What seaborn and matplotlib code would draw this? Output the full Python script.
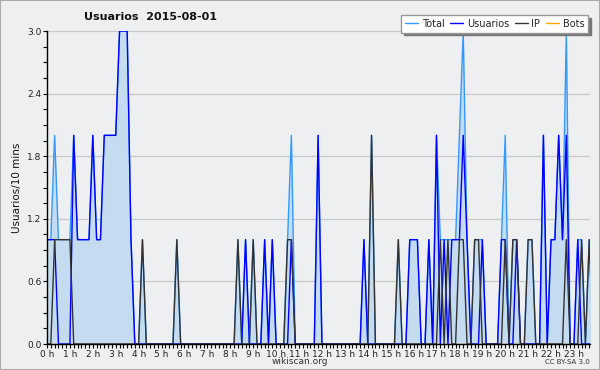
import numpy as np
import pandas as pd
import matplotlib
matplotlib.use("Agg")
import matplotlib.pyplot as plt
import seaborn as sns
from matplotlib.lines import Line2D
from matplotlib.patches import Rectangle
from matplotlib.ticker import FixedLocator, MultipleLocator, FormatStrFormatter

# ---- data: one value per 10-minute slot (144 slots) ----
hour_labels = [f"{h} h" for h in range(24)]

total = [
    1, 1, 2, 1, 1, 1, 1, 2, 1, 1, 1, 1, 2, 1, 1, 2, 2, 2, 2, 3, 3, 3, 1, 0,
    0, 1, 0, 0, 0, 0, 0, 0, 0, 0, 1, 0, 0, 0, 0, 0, 0, 0, 0, 0, 0, 0, 0, 0,
    0, 0, 1, 0, 1, 0, 1, 0, 0, 1, 0, 1, 0, 0, 0, 1, 2, 0, 0, 0, 0, 0, 0, 2,
    0, 0, 0, 0, 0, 0, 0, 0, 0, 0, 0, 1, 0, 2, 0, 0, 0, 0, 0, 0, 1, 0, 0, 1,
    1, 1, 0, 0, 1, 0, 2, 1, 1, 1, 1, 1, 2, 3, 1, 0, 1, 1, 1, 0, 0, 0, 0, 1,
    2, 0, 1, 1, 0, 0, 1, 1, 0, 0, 2, 0, 1, 1, 2, 1, 3, 0, 0, 1, 1, 0, 1, 0,
]
usuarios = [
    1, 1, 1, 0, 0, 0, 0, 2, 1, 1, 1, 1, 2, 1, 1, 2, 2, 2, 2, 3, 3, 3, 1, 0,
    0, 0, 0, 0, 0, 0, 0, 0, 0, 0, 0, 0, 0, 0, 0, 0, 0, 0, 0, 0, 0, 0, 0, 0,
    0, 0, 0, 0, 1, 0, 0, 0, 0, 1, 0, 1, 0, 0, 0, 0, 1, 0, 0, 0, 0, 0, 0, 2,
    0, 0, 0, 0, 0, 0, 0, 0, 0, 0, 0, 1, 0, 0, 0, 0, 0, 0, 0, 0, 0, 0, 0, 1,
    1, 1, 0, 0, 1, 0, 2, 0, 1, 0, 1, 1, 1, 2, 1, 0, 0, 0, 1, 0, 0, 0, 0, 1,
    1, 0, 0, 1, 0, 0, 0, 0, 0, 0, 2, 0, 1, 1, 2, 1, 2, 0, 0, 1, 0, 0, 0, 0,
]
ip = [
    0, 0, 1, 1, 1, 1, 1, 0, 0, 0, 0, 0, 0, 0, 0, 0, 0, 0, 0, 0, 0, 0, 0, 0,
    0, 1, 0, 0, 0, 0, 0, 0, 0, 0, 1, 0, 0, 0, 0, 0, 0, 0, 0, 0, 0, 0, 0, 0,
    0, 0, 1, 0, 0, 0, 1, 0, 0, 0, 0, 0, 0, 0, 0, 1, 1, 0, 0, 0, 0, 0, 0, 0,
    0, 0, 0, 0, 0, 0, 0, 0, 0, 0, 0, 0, 0, 2, 0, 0, 0, 0, 0, 0, 1, 0, 0, 0,
    0, 0, 0, 0, 0, 0, 0, 1, 0, 1, 0, 0, 1, 1, 0, 0, 1, 1, 0, 0, 0, 0, 0, 0,
    1, 0, 1, 1, 0, 0, 1, 1, 0, 0, 0, 0, 0, 0, 0, 0, 1, 0, 0, 0, 1, 0, 1, 0,
]
bots = [
    0, 0, 0, 0, 0, 0, 0, 0, 0, 0, 0, 0, 0, 0, 0, 0, 0, 0, 0, 0, 0, 0, 0, 0,
    0, 0, 0, 0, 0, 0, 0, 0, 0, 0, 0, 0, 0, 0, 0, 0, 0, 0, 0, 0, 0, 0, 0, 0,
    0, 0, 0, 0, 0, 0, 0, 0, 0, 0, 0, 0, 0, 0, 0, 0, 0, 0, 0, 0, 0, 0, 0, 0,
    0, 0, 0, 0, 0, 0, 0, 0, 0, 0, 0, 0, 0, 0, 0, 0, 0, 0, 0, 0, 0, 0, 0, 0,
    0, 0, 0, 0, 0, 0, 0, 0, 0, 0, 0, 0, 0, 0, 0, 0, 0, 0, 0, 0, 0, 0, 0, 0,
    0, 0, 0, 0, 0, 0, 0, 0, 0, 0, 0, 0, 0, 0, 0, 0, 0, 0, 0, 0, 0, 0, 0, 0,
]

# ---- styling ----
BG = "#eeeff0"
FILL = "#c5dcf0"
COLORS = {"Total": "#3399ff", "Usuarios": "#0000ff", "IP": "#333333", "Bots": "#ffa500"}

sns.set_theme(style="white")
plt.rcParams["font.family"] = ["DejaVu Sans"]

fig = plt.figure(figsize=(6, 3.7), dpi=100, facecolor=BG)
ax = fig.add_axes([47 / 600, 26 / 370, 543 / 600, 313 / 370])
ax.set_facecolor(BG)

slot = np.arange(len(total))
df = pd.DataFrame({"slot": slot, "Total": total, "Usuarios": usuarios,
                   "IP": ip, "Bots": bots})
long = df.melt(id_vars="slot", var_name="serie", value_name="valor")

ax.fill_between(df["slot"], df["Total"], color=FILL, lw=0, zorder=1)
sns.lineplot(data=long, x="slot", y="valor", hue="serie",
             hue_order=["Bots", "Total", "Usuarios", "IP"],
             palette=COLORS, estimator=None, linewidth=1.0,
             legend=False, ax=ax, zorder=2)

ax.set_xlim(0, 142.2)
ax.set_ylim(0, 3)
ax.xaxis.set_major_locator(FixedLocator(list(range(0, 144, 6))))
ax.set_xticklabels(hour_labels)
ax.xaxis.set_minor_locator(MultipleLocator(1))
ax.yaxis.set_major_locator(MultipleLocator(0.6))
ax.yaxis.set_major_formatter(FormatStrFormatter("%.1f"))
ax.yaxis.set_minor_locator(MultipleLocator(0.15))
ax.tick_params(axis="both", which="both", direction="out", length=3,
               width=0.8, color="black", labelsize=6.5, pad=1,
               bottom=True, left=True, labelcolor="#222222")
ax.grid(axis="y", which="major", color="#c8c8c8", lw=0.9, zorder=0)
ax.set_axisbelow(True)
for s in ["top", "right"]:
    ax.spines[s].set_visible(False)
for s in ["left", "bottom"]:
    ax.spines[s].set_color("black")
    ax.spines[s].set_linewidth(1.0)
ax.set_xlabel("")
ax.set_ylabel("Usuarios/10 mins", fontsize=7.5, labelpad=4, color="#111111")

fig.text(151 / 600, 1 - 17 / 370, "Usuarios  2015-08-01", ha="center",
         va="center", fontsize=8, fontweight="bold", color="#111111")
fig.text(300 / 600, 1 - 362 / 370, "wikiscan.org", ha="center", va="center",
         fontsize=6.5, color="#333333")
fig.text(590 / 600, 1 - 362 / 370, "CC BY-SA 3.0", ha="right", va="center",
         fontsize=5, color="#333333")

handles = [Line2D([], [], color=COLORS[k], lw=1.0) for k in ["Total", "Usuarios", "IP", "Bots"]]
fig.legend(handles, ["Total", "Usuarios", "IP", "Bots"], loc="upper right",
           bbox_to_anchor=(593 / 600, 1 - 10 / 370), ncol=4, fontsize=7,
           frameon=True, fancybox=False, edgecolor="#999999",
           facecolor="white", framealpha=1, handlelength=1.3,
           handletextpad=0.4, columnspacing=0.6, borderpad=0.4,
           shadow={"color": "#777777", "alpha": 1})

fig.patches.append(Rectangle((0, 0), 1, 1, transform=fig.transFigure,
                             fill=False, edgecolor="#aaaaaa", lw=1.5))

fig.savefig("out.png", dpi=100, facecolor=BG)
